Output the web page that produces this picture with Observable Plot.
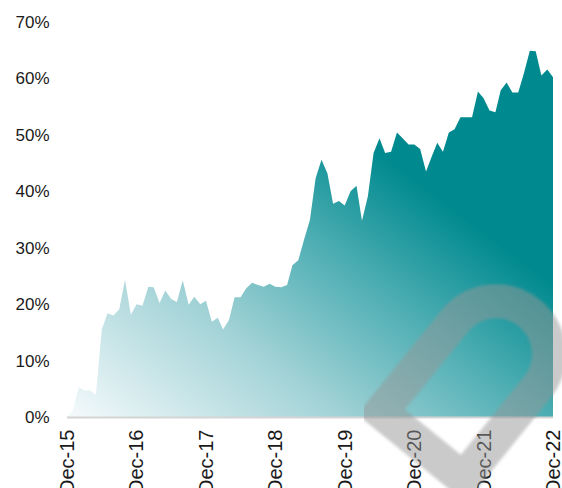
<!DOCTYPE html>
<html>
<head>
<meta charset="utf-8">
<script src="https://cdn.jsdelivr.net/npm/d3@7"></script>
<script src="https://cdn.jsdelivr.net/npm/@observablehq/plot@0.6"></script>
<style>
  html, body { margin: 0; padding: 0; background: #fff; }
  #wrap { position: relative; width: 562px; height: 488px; overflow: hidden; }
  #wrap svg.overlay { position: absolute; left: 0; top: 0; pointer-events: none; }
</style>
</head>
<body>
<div id="wrap"></div>
<script>
// Monthly share (%), Dec-15 .. Dec-22
const startMonth = new Date(Date.UTC(2015, 11, 1));
const shareValues = [
  0, 1.2, 5.3, 4.7, 4.7, 3.9, 15.5, 18.4, 18.0, 19.1, 24.3, 18.1,
  20.0, 19.7, 23.1, 23.0, 20.2, 22.4, 20.9, 20.4, 24.2, 19.9, 21.3, 20.0,
  20.6, 16.9, 17.6, 15.5, 17.2, 21.2, 21.2, 22.8, 23.8, 23.4, 23.1, 23.6,
  23.1, 23.0, 23.4, 26.9, 27.8, 31.4, 34.9, 42.3, 45.6, 43.2, 37.8, 38.3,
  37.5, 40.0, 41.0, 34.8, 39.1, 46.8, 49.4, 46.8, 47.0, 50.4, 49.4, 48.3,
  48.3, 47.5, 43.5, 46.0, 48.6, 47.0, 50.4, 51.0, 53.1, 53.1, 53.1, 57.7,
  56.5, 54.3, 54.0, 57.9, 59.3, 57.5, 57.5, 60.9, 64.9, 64.8, 60.5, 61.6,
  60.2
];
const tickYears = [2015, 2016, 2017, 2018, 2019, 2020, 2021, 2022];
const tickLabels = ["Dec-15", "Dec-16", "Dec-17", "Dec-18", "Dec-19", "Dec-20", "Dec-21", "Dec-22"];
const yTicks = [0, 10, 20, 30, 40, 50, 60, 70];

const data = shareValues.map((v, i) => ({date: d3.utcMonth.offset(startMonth, i), value: v}));
const tickDates = tickYears.map(y => new Date(Date.UTC(y, 11, 1)));
const labelOf = new Map(tickDates.map((d, i) => [+d, tickLabels[i]]));

const NS = "http://www.w3.org/2000/svg";
function gradientDefs() {
  const defs = document.createElementNS(NS, "defs");
  const g = document.createElementNS(NS, "linearGradient");
  g.setAttribute("id", "tealGrad");
  g.setAttribute("x1", "0"); g.setAttribute("y1", "1");
  g.setAttribute("x2", "1"); g.setAttribute("y2", "0");
  [[0, "#f5fafc"], [0.28, "#a3d3d7"], [0.5, "#4badb2"], [0.68, "#008a8f"], [1, "#008a8f"]].forEach(([o, c]) => {
    const s = document.createElementNS(NS, "stop");
    s.setAttribute("offset", o);
    s.setAttribute("stop-color", c);
    g.appendChild(s);
  });
  defs.appendChild(g);
  return defs;
}

const chart = Plot.plot({
  width: 562,
  height: 488,
  marginLeft: 67,
  marginRight: 9,
  marginTop: 22,
  marginBottom: 71,
  style: {fontFamily: "'Liberation Sans', Arial, sans-serif", fontSize: "17px", color: "#1a1a1a", background: "transparent"},
  x: {type: "utc", domain: [tickDates[0], tickDates[tickDates.length - 1]]},
  y: {domain: [0, 70]},
  marks: [
    gradientDefs,
    Plot.areaY(data, {x: "date", y: "value", fill: "url(#tealGrad)", curve: "linear"}),
    Plot.ruleY([0], {stroke: "#d4d4d4", strokeWidth: 2}),
    Plot.axisY({ticks: yTicks, tickSize: 0, tickPadding: 18, tickFormat: d => d + "%", label: null, fontSize: 17}),
    Plot.axisX({ticks: tickDates, tickSize: 0, tickPadding: 12, tickRotate: -90, tickFormat: d => labelOf.get(+d), label: null, fontSize: 20})
  ]
});
const wrap = document.getElementById("wrap");
wrap.appendChild(chart);

// decorative watermark overlay (not data)
const ov = document.createElementNS(NS, "svg");
ov.setAttribute("class", "overlay");
ov.setAttribute("width", 562);
ov.setAttribute("height", 488);
ov.innerHTML = `<defs><filter id="soft" x="-10%" y="-10%" width="120%" height="120%"><feGaussianBlur stdDeviation="1.5"/></filter></defs>
<path d="M381,412 L455.8,319.7 A53,53 0 0 1 538.2,386.3 L463.4,478.8 Z" fill="none" stroke="#959595" stroke-opacity="0.5" stroke-width="34" stroke-linejoin="miter" filter="url(#soft)"/>`;
wrap.appendChild(ov);
</script>
</body>
</html>
